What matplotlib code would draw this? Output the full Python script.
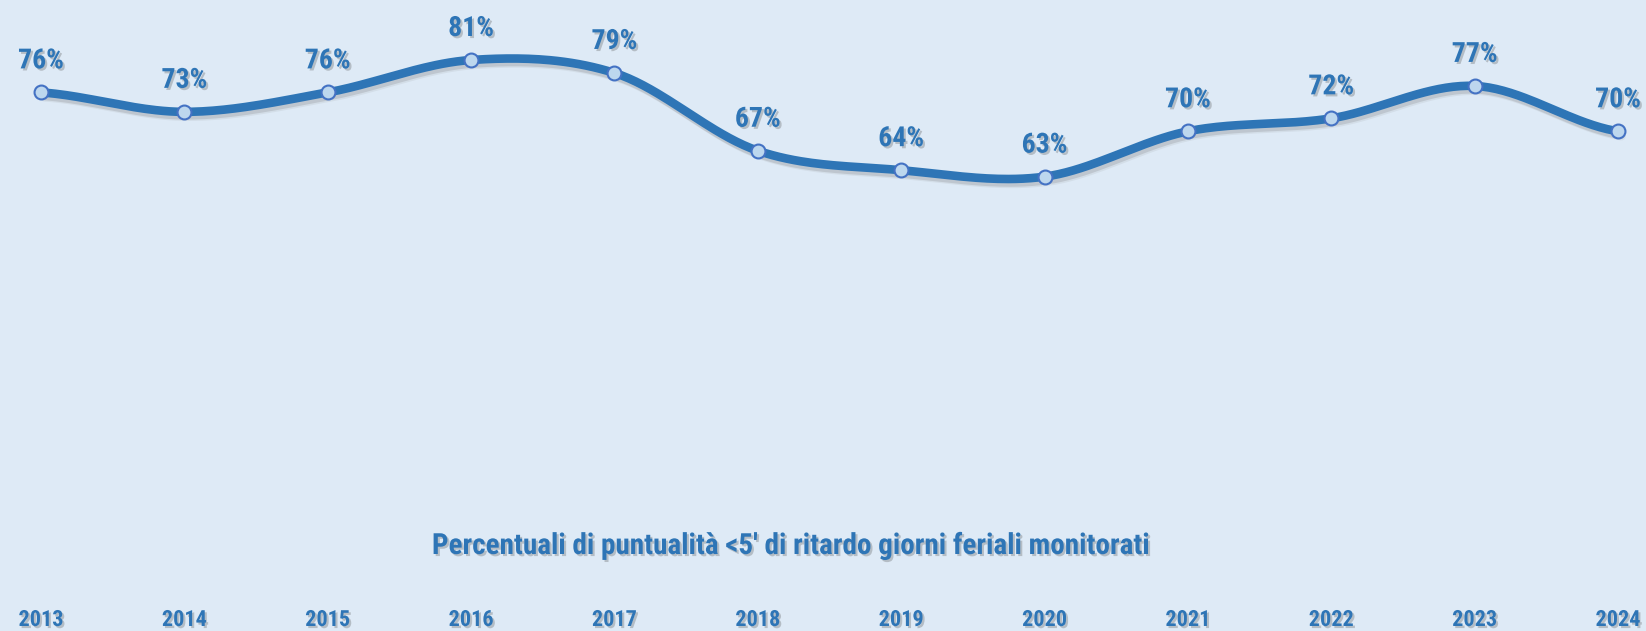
import numpy as np
import matplotlib
matplotlib.use("Agg")
import matplotlib.pyplot as plt
import matplotlib.patheffects as pe
from matplotlib import font_manager

years = ["2013", "2014", "2015", "2016", "2017", "2018", "2019", "2020", "2021", "2022", "2023", "2024"]
values = [76, 73, 76, 81, 79, 67, 64, 63, 70, 72, 77, 70]
title = "Percentuali di puntualità <5' di ritardo giorni feriali monitorati"

names = {f.name for f in font_manager.fontManager.ttflist}
fam = [n for n in ["Roboto Condensed", "Liberation Sans Narrow", "DejaVu Sans"] if n in names]

BG = "#DEEAF6"
LINE = "#2E75B6"
TXT = "#2E75B6"

W, H = 1646, 631
fig = plt.figure(figsize=(W / 100, H / 100), dpi=100, facecolor=BG)
ax = fig.add_axes([0, 0, 1, 1])
ax.set_facecolor(BG)
for s in ax.spines.values():
    s.set_visible(False)
ax.set_xticks([])
ax.set_yticks([])

x = np.arange(len(values), dtype=float)
y = np.array(values, dtype=float)

# Catmull-Rom smoothing (Excel-like smoothed line)
def catmull(xp, yp, n=40):
    px = np.concatenate([[2 * xp[0] - xp[1]], xp, [2 * xp[-1] - xp[-2]]])
    py = np.concatenate([[yp[0]], yp, [yp[-1]]])
    xs, ys = [], []
    for i in range(1, len(px) - 2):
        t = np.linspace(0, 1, n, endpoint=False)
        p0, p1, p2, p3 = (np.array([px[j], py[j]]) for j in range(i - 1, i + 3))
        b0 = p1
        b1 = p1 + (p2 - p0) / 6
        b2 = p2 - (p3 - p1) / 6
        b3 = p2
        pts = ((1 - t) ** 3)[:, None] * b0 + (3 * (1 - t) ** 2 * t)[:, None] * b1 + \
              (3 * (1 - t) * t ** 2)[:, None] * b2 + (t ** 3)[:, None] * b3
        xs.extend(pts[:, 0]); ys.extend(pts[:, 1])
    xs.append(xp[-1]); ys.append(yp[-1])
    return np.array(xs), np.array(ys)

sx, sy = catmull(x, y)
ax.plot(sx, sy, color=LINE, lw=6.2, solid_capstyle="round", zorder=3,
        path_effects=[pe.SimpleLineShadow(offset=(1.5, -2.5), shadow_color="#666666", alpha=0.2),
                      pe.SimpleLineShadow(offset=(2.5, -3.5), shadow_color="#888888", alpha=0.12),
                      pe.Normal()])
ax.plot(x, y, ls="none", marker="o", ms=10, mfc="#BDD7EE", mec="#4472C4", mew=1.5, zorder=4)

# axis limits: 2013 at px 41, 2024 at px 1618
ppy = (1618 - 41) / 11
ax.set_xlim(-41 / ppy, 11 + (W - 1618) / ppy)
ppp = (585 - 60) / 81
ax.set_ylim(-(H - 585) / ppp, 81 + 60 / ppp)

shadow = [pe.withSimplePatchShadow(offset=(1.5, -1.5), shadow_rgbFace="#555555", alpha=0.3)]
for xi, yi in zip(x, y):
    ax.annotate(f"{int(yi)}%", (xi, yi), xytext=(0, 24), textcoords="offset pixels",
                ha="center", va="baseline", fontsize=20, fontweight="bold", color=TXT,
                family=fam, path_effects=shadow, zorder=5, annotation_clip=False)

for xi, lab in zip(x, years):
    ax.text(xi, 1 - 620 / H, lab, transform=ax.get_xaxis_transform(), ha="center", va="center",
            fontsize=16, fontweight="bold", color=TXT, family=fam, path_effects=shadow)

fig.text(791 / W, 1 - 546 / H, title, ha="center", va="center", fontsize=21,
         fontweight="bold", color=TXT, family=fam, path_effects=shadow)

fig.savefig("out.png", dpi=100, facecolor=BG)
